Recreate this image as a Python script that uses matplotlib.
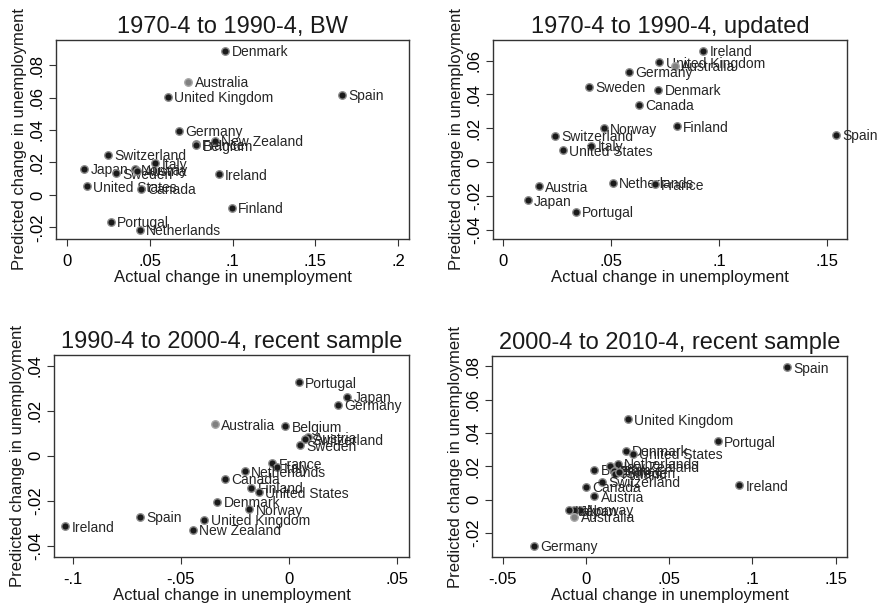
import matplotlib.pyplot as plt
from matplotlib.ticker import FuncFormatter

plt.rcParams['font.family'] = ['Liberation Sans', 'DejaVu Sans']

# panel 1: 1970-4 to 1990-4, BW
bw_names = ["Denmark", "Australia", "United Kingdom", "Spain", "Germany", "New Zealand",
            "France", "Belgium", "Switzerland", "Italy", "Japan", "Sweden", "Norway",
            "Austria", "Ireland", "United States", "Canada", "Finland", "Portugal",
            "Netherlands"]
bw_actual = [0.0955, 0.0731, 0.0610, 0.1658, 0.0673, 0.0894, 0.0777, 0.0780, 0.0244,
             0.0532, 0.0103, 0.0294, 0.0409, 0.0423, 0.0914, 0.0117, 0.0447, 0.0993,
             0.0264, 0.0439]
bw_pred = [0.0886, 0.0697, 0.0603, 0.0615, 0.0394, 0.0334, 0.0312, 0.0305, 0.0246,
           0.0195, 0.0162, 0.0133, 0.0158, 0.0150, 0.0127, 0.0053, 0.0037, -0.0078,
           -0.0164, -0.0215]

# panel 2: 1970-4 to 1990-4, updated
upd_names = ["Ireland", "United Kingdom", "Australia", "Germany", "Sweden", "Denmark",
             "Canada", "Norway", "Finland", "Spain", "Switzerland", "Italy",
             "United States", "Netherlands", "France", "Austria", "Japan", "Portugal"]
upd_actual = [0.0928, 0.0724, 0.0796, 0.0585, 0.0400, 0.0719, 0.0629, 0.0467, 0.0804,
              0.1542, 0.0243, 0.0410, 0.0277, 0.0509, 0.0704, 0.0165, 0.0116, 0.0337]
upd_pred = [0.0657, 0.0590, 0.0569, 0.0533, 0.0447, 0.0429, 0.0338, 0.0201, 0.0212,
            0.0161, 0.0157, 0.0098, 0.0071, -0.0122, -0.0130, -0.0142, -0.0226, -0.0293]

# panel 3: 1990-4 to 2000-4
r90_names = ["Portugal", "Japan", "Germany", "Australia", "Belgium", "Austria",
             "Switzerland", "Sweden", "France", "Italy", "Netherlands", "Canada",
             "Finland", "United States", "Denmark", "Norway", "Spain", "United Kingdom",
             "Ireland", "New Zealand"]
r90_actual = [0.0045, 0.0268, 0.0226, -0.0343, -0.0017, 0.0088, 0.0074, 0.0051, -0.0077,
              -0.0054, -0.0205, -0.0298, -0.0174, -0.0138, -0.0332, -0.0183, -0.0688,
              -0.0391, -0.1034, -0.0443]
r90_pred = [0.0327, 0.0263, 0.0226, 0.0141, 0.0132, 0.0082, 0.0073, 0.0046, -0.0034,
            -0.0052, -0.0070, -0.0103, -0.0144, -0.0162, -0.0205, -0.0239, -0.0271,
            -0.0284, -0.0315, -0.0329]

# panel 4: 2000-4 to 2010-4
r00_names = ["Spain", "United Kingdom", "Portugal", "Denmark", "United States", "Ireland",
             "Germany", "Belgium", "Netherlands", "New Zealand", "France", "Finland",
             "Sweden", "Switzerland", "Canada", "Austria", "Norway", "Japan", "Italy",
             "Australia"]
r00_actual = [0.1207, 0.0250, 0.0791, 0.0238, 0.0282, 0.0921, -0.0314, 0.0050, 0.0192,
              0.0146, 0.0166, 0.0176, 0.0196, 0.0098, 0.0002, 0.0050, -0.0034, -0.0074,
              -0.0104, -0.0070]
r00_pred = [0.0794, 0.0481, 0.0349, 0.0293, 0.0273, 0.0086, -0.0279, 0.0180, 0.0213,
            0.0200, 0.0172, 0.0156, 0.0164, 0.0106, 0.0076, 0.0020, -0.0060, -0.0064,
            -0.0064, -0.0104]


def stata_fmt(v, pos):
    if abs(v) < 1e-9:
        return "0"
    s = ("%g" % round(v, 4))
    return s.replace("0.", ".")


def panel(ax, title, names, xs, ys, xlim, ylim, xticks, yticks):
    for n, x, y in zip(names, xs, ys):
        fc = "#808080" if n == "Australia" else "#1a1a1a"
        ec = "#a8a8a8" if n == "Australia" else "#8c8c8c"
        ax.plot(x, y, "o", ms=5.4, mfc=fc, mec=ec, mew=1.0, zorder=3)
        ax.annotate(n, (x, y), xytext=(4.5, -1), textcoords="offset points",
                    va="center", ha="left", fontsize=10, color="#262626")
    ax.set_xlim(xlim)
    ax.set_ylim(ylim)
    ax.set_xticks(xticks)
    ax.set_yticks(yticks)
    ax.xaxis.set_major_formatter(FuncFormatter(stata_fmt))
    ax.yaxis.set_major_formatter(FuncFormatter(stata_fmt))
    ax.tick_params(labelsize=12, length=5, width=0.8, color="#333333")
    ax.tick_params(axis="x", pad=5.5)
    ax.tick_params(axis="y", pad=3)
    for lab in ax.get_yticklabels():
        lab.set_rotation(90)
        lab.set_va("center")
    for sp in ax.spines.values():
        sp.set_color("#333333")
        sp.set_linewidth(1.0)
    ax.set_title(title, fontsize=17, pad=5, color="#1a1a1a")
    ax.set_xlabel("Actual change in unemployment", fontsize=12, labelpad=1, color="#1a1a1a")
    ax.set_ylabel("Predicted change in unemployment", fontsize=12, labelpad=2, color="#1a1a1a")


W, H = 880, 607
fig = plt.figure(figsize=(8.8, 6.07), dpi=100)


def add_axes(left, top, right, bottom):
    return fig.add_axes([left / W, 1 - bottom / H, (right - left) / W, (bottom - top) / H])


ax1 = add_axes(56, 40, 409, 239)
ax2 = add_axes(493, 40, 847, 239)
ax3 = add_axes(54, 355, 409, 557)
ax4 = add_axes(492, 356, 847, 557)

panel(ax1, "1970-4 to 1990-4, BW", bw_names, bw_actual, bw_pred,
      (-0.0068, 0.2065), (-0.0271, 0.0954),
      [0, 0.05, 0.1, 0.15, 0.2], [-0.02, 0, 0.02, 0.04, 0.06, 0.08])
panel(ax2, "1970-4 to 1990-4, updated", upd_names, upd_actual, upd_pred,
      (-0.0046, 0.1593), (-0.0454, 0.0722),
      [0, 0.05, 0.1, 0.15], [-0.04, -0.02, 0, 0.02, 0.04, 0.06])
panel(ax3, "1990-4 to 2000-4, recent sample", r90_names, r90_actual, r90_pred,
      (-0.1086, 0.0554), (-0.0451, 0.0449),
      [-0.1, -0.05, 0, 0.05], [-0.04, -0.02, 0, 0.02, 0.04])
panel(ax4, "2000-4 to 2010-4, recent sample", r00_names, r00_actual, r00_pred,
      (-0.0565, 0.1568), (-0.0345, 0.0862),
      [-0.05, 0, 0.05, 0.1, 0.15], [-0.02, 0, 0.02, 0.04, 0.06, 0.08])

fig.savefig("out.png", dpi=100)
